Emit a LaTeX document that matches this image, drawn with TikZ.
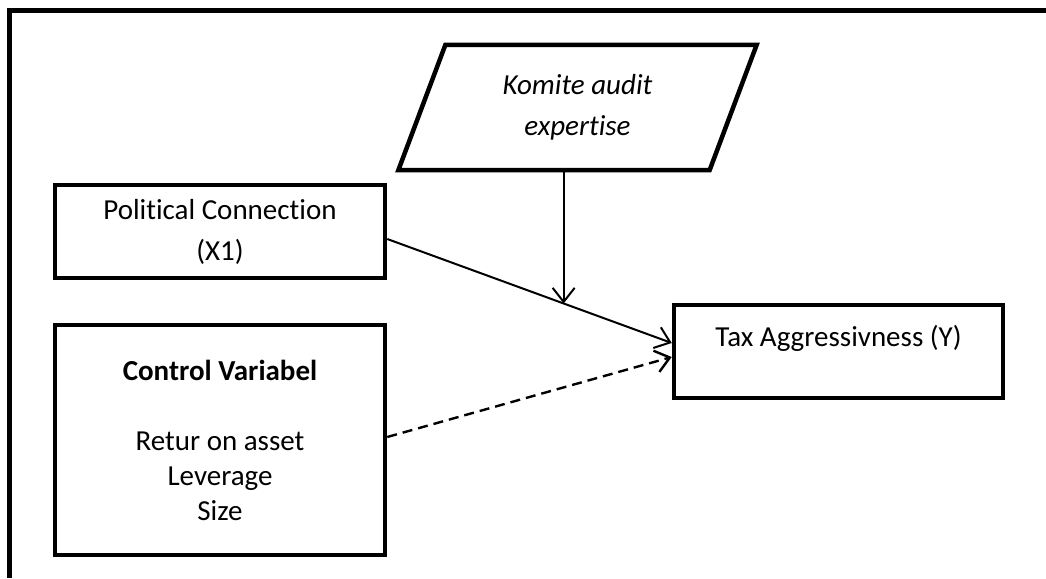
\documentclass[tikz,border=0pt]{standalone}
\usepackage{fontspec}
\setmainfont{Carlito}[Ligatures={NoCommon}]
\usetikzlibrary{arrows.meta, positioning, shapes.geometric}

\begin{document}
\begin{tikzpicture}[x=1pt, y=-1pt, >={Straight Barb[length=14pt, width=22pt]},
    box/.style={draw, line width=4.5pt, minimum width=330pt, minimum height=93pt,
        align=center, inner sep=0pt, font=\fontsize{29}{41}\selectfont},
    link/.style={->, line width=2pt}]

    % 1. 画布范围与外框 (只有上边和左边)
    \useasboundingbox (0,0) rectangle (1046,578);
    \draw[line width=5pt] (1046,10.5) -- (9.5,10.5) -- (9.5,578);

    % 2. 各变量方框
    \node[box] (pc) at (220,231.5) {Political Connection\\(X1)};
    \node[box, minimum height=230pt, font=\fontsize{29}{35}\selectfont] (ctrl) at (220,440)
        {\textbf{Control Variabel}\\[35pt]Retur on asset\\Leverage\\Size};
    \node[box, minimum width=329pt, text height=20pt, text depth=31pt] (tax) at (838.5,351.5)
        {Tax Aggressivness (Y)};

    % 3. 调节变量 (平行四边形)
    \node[draw, line width=4.5pt, trapezium, trapezium left angle=68, trapezium right angle=112,
        trapezium stretches=true, minimum width=359pt, minimum height=125pt, inner sep=0pt,
        align=center, font=\fontsize{29}{41}\selectfont\itshape] (komite) at (577.5,107.5)
        {Komite audit\\expertise};

    % 4. 箭头
    \draw[link] ([yshift=-7.5pt]pc.east) -- coordinate[pos=0.62] (meet) ([yshift=8.5pt]tax.west);
    \draw[link] (komite.south -| meet) -- (meet);
    \draw[link, line width=2.4pt, dash pattern=on 10pt off 6pt] ([yshift=3pt]ctrl.east) -- ([yshift=-5.5pt]tax.west);

\end{tikzpicture}
\end{document}
